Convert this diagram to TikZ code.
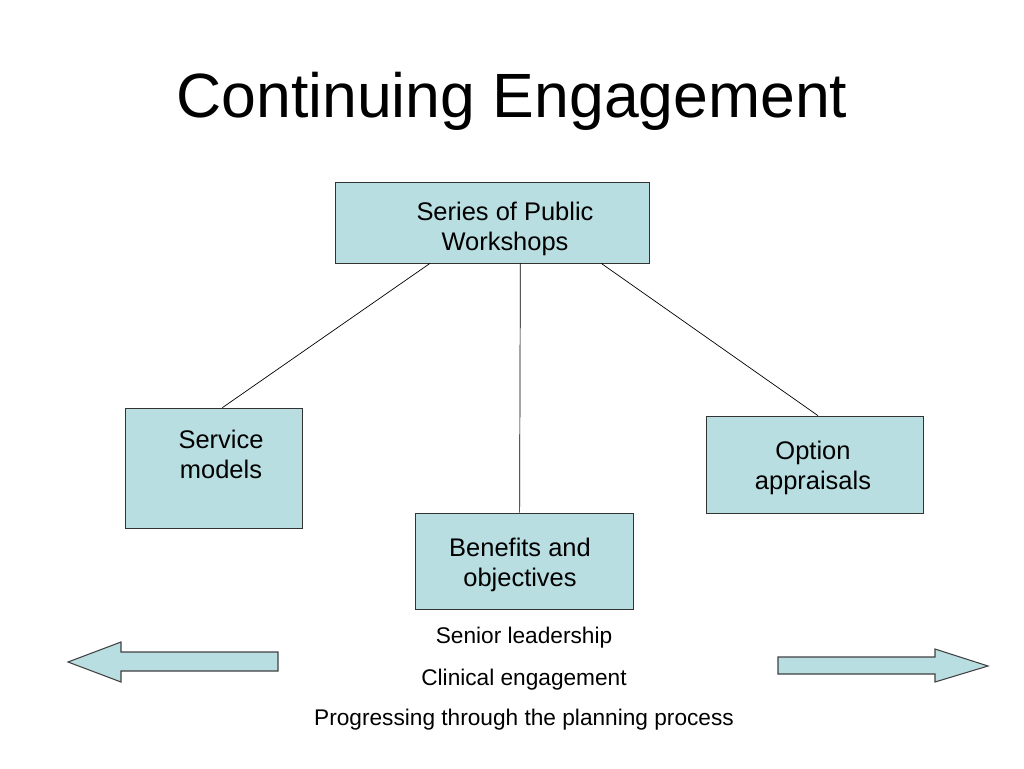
\documentclass[tikz,border=0pt]{standalone}
\usepackage{fontspec}
\setmainfont{Liberation Sans}
\usetikzlibrary{calc,positioning}
\definecolor{boxblue}{RGB}{185,222,225}
\tikzset{
  box/.style={draw=black!80,fill=boxblue,inner sep=0pt},
  boxtext/.style={align=center,font=\fontsize{14.5}{17}\selectfont},
  note/.style={font=\fontsize{12.9}{15}\selectfont},
  pointer/.style={draw=black!75,fill=boxblue,line width=0.6pt},
}
\begin{document}
\begin{tikzpicture}[x=0.02cm,y=-0.02cm]
        \useasboundingbox (0,0) rectangle (1024,768);
        \node[font=\fontsize{35.6}{40}\selectfont] (title) at (512,101) {Continuing Engagement};

        \node[box,minimum width=314*0.02cm,minimum height=81*0.02cm] (pw) at (492,222.5) {};
        \node[box,minimum width=177*0.02cm,minimum height=120*0.02cm] (sm) at (213.5,468) {};
        \node[box,minimum width=217*0.02cm,minimum height=97*0.02cm] (oa) at (814.5,464.5) {};
        \node[box,minimum width=218*0.02cm,minimum height=96*0.02cm] (bo) at (524,561) {};

        \node[boxtext] (pwtext) at (505,229) {Series of Public\\Workshops};
        \node[boxtext] (smtext) at (221,454) {Service\\models};
        \node[boxtext] (oatext) at (813,468) {Option\\appraisals};
        \node[boxtext] (botext) at (520,565) {Benefits and\\objectives};

        \draw ($(pw.south west)!0.303!(pw.south east)$) -- ($(sm.north west)!0.55!(sm.north east)$);
        \draw ($(pw.south west)!0.59!(pw.south east)$) -- ($(bo.north west)!0.48!(bo.north east)$);
        \draw ($(pw.south west)!0.847!(pw.south east)$) -- ($(oa.north west)!0.516!(oa.north east)$);

        \node[note] (lead) at (524,638) {Senior leadership};
        \node[note] (clin) at (524,680) {Clinical engagement};
        \node[note] (prog) at (524,720) {Progressing through the planning process};

        % arrows either side
        \draw[pointer] (68,662) -- (121,642) -- (121,652) -- (278,652) -- (278,671) -- (121,671) -- (121,682) -- cycle;
        \draw[pointer] (988,666) -- (935,649) -- (935,657) -- (778,657) -- (778,674) -- (935,674) -- (935,682) -- cycle;
      \end{tikzpicture}
\end{document}
